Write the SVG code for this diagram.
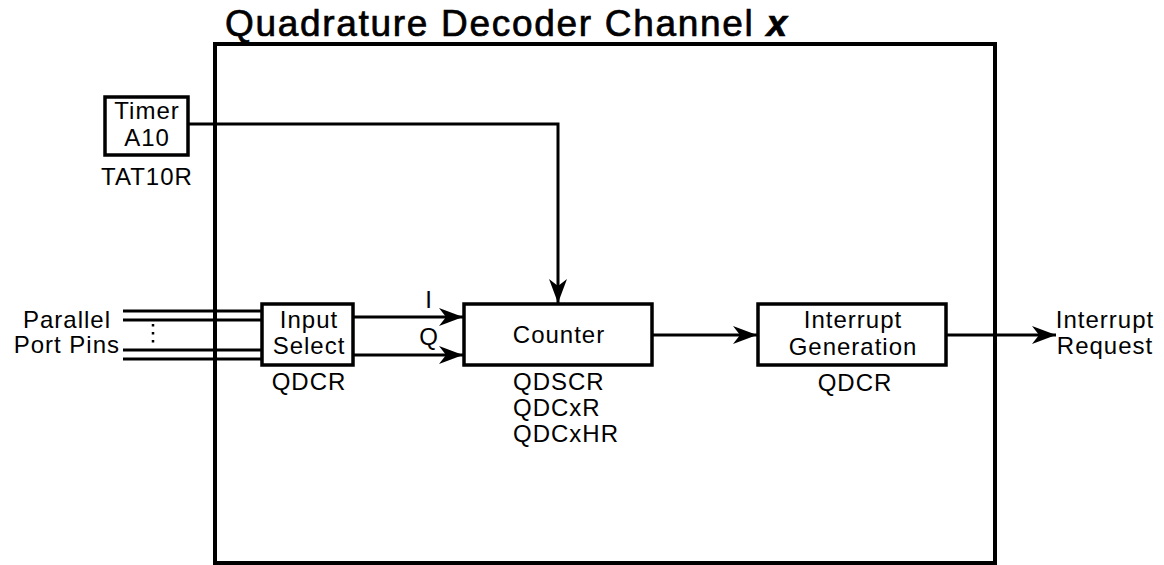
<svg xmlns="http://www.w3.org/2000/svg" width="1164" height="565" viewBox="0 0 1164 565">
  <style>
    .box { fill: #fff; stroke: #000; stroke-width: 3.5; }
    .ln { fill: none; stroke: #000; stroke-width: 3; }
    .t { font-family: "Liberation Sans", Arial, sans-serif; font-size: 24px; letter-spacing: 1px; fill: #000; }
    .c { text-anchor: middle; }
    .title { font-family: "Liberation Sans", Arial, sans-serif; font-size: 37px; fill: #000; stroke: #000; stroke-width: 0.7; }
  </style>
  <defs>
    <marker id="arr" markerUnits="userSpaceOnUse" markerWidth="26" markerHeight="20" refX="24" refY="10" orient="auto">
      <path d="M0,1 L24,10 L0,19 L7,10 Z" fill="#000"/>
    </marker>
  </defs>

  <g id="channel">
    <rect x="215" y="44" width="780" height="519" fill="none" stroke="#000" stroke-width="4"/>
    <text class="title" x="225" y="36" textLength="562" lengthAdjust="spacing">Quadrature Decoder Channel <tspan font-style="italic" font-weight="bold">x</tspan></text>
  </g>

  <g id="connectors">
    <line class="ln" x1="123" y1="311" x2="262" y2="311"/>
    <line class="ln" x1="123" y1="320" x2="262" y2="320"/>
    <line class="ln" x1="123" y1="350" x2="262" y2="350"/>
    <line class="ln" x1="123" y1="359" x2="262" y2="359"/>
    <line x1="153" y1="324" x2="153" y2="345" stroke="#000" stroke-width="2.5" stroke-dasharray="2.5,5.5"/>
    <path class="ln" d="M188,124 H558 V303" marker-end="url(#arr)"/>
    <path class="ln" d="M353,317 H463" marker-end="url(#arr)"/>
    <path class="ln" d="M353,355 H463" marker-end="url(#arr)"/>
    <path class="ln" d="M652,335 H757" marker-end="url(#arr)"/>
    <path class="ln" d="M946,335 H1056" marker-end="url(#arr)"/>
  </g>

  <g id="pins">
    <text class="t" x="111" y="328" text-anchor="end">Parallel</text>
    <text class="t" x="120" y="353" text-anchor="end">Port Pins</text>
  </g>

  <g id="timer">
    <rect class="box" x="105" y="97" width="83" height="58"/>
    <text class="t c" x="147" y="119">Timer</text>
    <text class="t c" x="147" y="146">A10</text>
    <text class="t c" x="147" y="185">TAT10R</text>
  </g>

  <g id="input-select">
    <rect class="box" x="262" y="304" width="91" height="61"/>
    <text class="t c" x="309" y="328">Input</text>
    <text class="t c" x="309" y="354">Select</text>
    <text class="t c" x="309" y="390">QDCR</text>
  </g>

  <g id="labels-iq">
    <text class="t c" x="429" y="308">I</text>
    <text class="t c" x="429" y="345">Q</text>
  </g>

  <g id="counter">
    <rect class="box" x="464" y="304" width="188" height="61"/>
    <text class="t c" x="559" y="343">Counter</text>
    <text class="t" x="513" y="390">QDSCR</text>
    <text class="t" x="513" y="416">QDCxR</text>
    <text class="t" x="513" y="442">QDCxHR</text>
  </g>

  <g id="interrupt-generation">
    <rect class="box" x="758" y="304" width="188" height="61"/>
    <text class="t c" x="853" y="328">Interrupt</text>
    <text class="t c" x="853" y="355">Generation</text>
    <text class="t c" x="855" y="391">QDCR</text>
  </g>

  <g id="interrupt-request">
    <text class="t c" x="1105" y="328">Interrupt</text>
    <text class="t c" x="1105" y="354">Request</text>
  </g>
</svg>
